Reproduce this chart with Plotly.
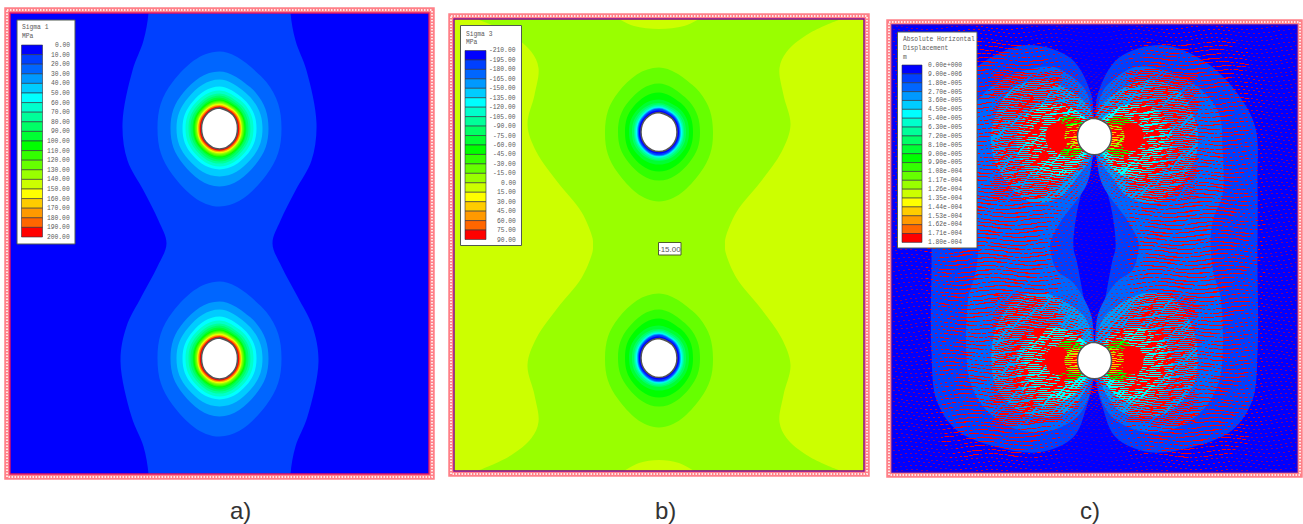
import numpy as np
import plotly.graph_objects as go

W, H = 1303, 524

# ---------- legend contents ----------
PALETTE = ["#0000ff", "#0040ff", "#0066ff", "#0099ff", "#00ccff", "#00ffff", "#00ffcc",
           "#00ff99", "#00ff66", "#00ff33", "#00ff00", "#33ff00", "#66ff00", "#99ff00",
           "#ccff00", "#ffff00", "#ffcc00", "#ff9900", "#ff6600", "#ff0000"]
LABELS_A = ["0.00", "10.00", "20.00", "30.00", "40.00", "50.00", "60.00", "70.00", "80.00", "90.00",
            "100.00", "110.00", "120.00", "130.00", "140.00", "150.00", "160.00", "170.00", "180.00",
            "190.00", "200.00"]
LABELS_B = ["-210.00", "-195.00", "-180.00", "-165.00", "-150.00", "-135.00", "-120.00", "-105.00",
            "-90.00", "-75.00", "-60.00", "-45.00", "-30.00", "-15.00", "0.00", "15.00", "30.00",
            "45.00", "60.00", "75.00", "90.00"]
LABELS_C = ["0.00e+000", "9.00e-006", "1.80e-005", "2.70e-005", "3.60e-005", "4.50e-005", "5.40e-005",
            "6.30e-005", "7.20e-005", "8.10e-005", "9.00e-005", "9.90e-005", "1.08e-004", "1.17e-004",
            "1.26e-004", "1.35e-004", "1.44e-004", "1.53e-004", "1.62e-004", "1.71e-004", "1.80e-004"]

# ---------- panel a: sigma 1 ----------
A_WAVE_Y = [262, 230.5, 203, 173, 120, 83, 53, 23, 0, -23, -53, -83, -118, -173, -203, -230.5, -262]
A_WAVE_HW = [71, 71, 76, 87, 97, 92, 76, 61, 53, 62, 78, 93, 99, 88, 76, 71, 71]
# radii around a hole: top, upper diagonal, side, lower diagonal, bottom
A_RINGS = [("#0066ff", 77, 66, 62, 66, 78), ("#0099ff", 57, 51, 49, 51, 58), ("#00ccff", 49, 44, 43, 44, 48),
           ("#00ffff", 42, 38, 37, 38, 41), ("#00ffcc", 38, 35, 34, 35, 38), ("#00ff99", 35, 32, 31, 32, 35),
           ("#00ff66", 33, 30, 29, 30, 33), ("#00ff33", 31, 28, 27, 28, 31), ("#00ff00", 29, 27, 26, 27, 29),
           ("#33ff00", 28, 26, 25, 26, 28), ("#66ff00", 27, 25, 24, 25, 27), ("#99ff00", 26, 24, 23, 24, 26),
           ("#ccff00", 25, 23.4, 22.3, 23.4, 25), ("#ffff00", 24.3, 22.9, 21.8, 22.9, 24.3),
           ("#ffcc00", 23.8, 22.4, 21.4, 22.4, 23.8), ("#ff9900", 23.3, 22, 21, 22, 23.3),
           ("#ff6600", 22.6, 21.3, 20.3, 21.3, 22.6), ("#ff0000", 22, 20.6, 19.6, 20.6, 22)]
A_HOLE = (20.5, 19.1, 18, 19.1, 20.5)

# ---------- panel b: sigma 3 ----------
B_SIDE_Y = [226, 225, 210, 193, 177, 150, 120, 93, 63, 33, 7, 0]
B_SIDE_HW = [183, 179.5, 147.5, 127.5, 120.5, 124.5, 131.5, 122.5, 101.5, 77.5, 66.5, 66]
B_TOP_X = [-40, -25, 0, 25, 40]
B_TOP_Y = [226, 219, 216, 219, 226]
B_BOTTOM_X = [-35, -20, 0, 20, 35]
B_BOTTOM_Y = [-226, -218, -215, -218, -226]
B_RINGS = [("#66ff00", 64.5, 57, 54, 58, 69.5), ("#33ff00", 48.5, 43, 41, 43, 48.5), ("#00ff00", 39.5, 36, 34, 36, 39.5),
           ("#00ff33", 32.5, 31, 30, 31, 32.5), ("#00ff66", 29, 28, 27, 28, 29), ("#00ff99", 27.5, 26, 25, 26, 27.5),
           ("#00ffcc", 26, 24.5, 24, 24.5, 26), ("#00ffff", 25, 23.5, 23, 23.5, 25), ("#00ccff", 24.5, 23, 22, 23, 24.5),
           ("#0099ff", 24, 22.5, 21.5, 22.5, 24), ("#0066ff", 23.5, 22, 21, 22, 23.5), ("#0040ff", 23, 21.5, 20.5, 21.5, 23),
           ("#0000ff", 21.5, 20.5, 20, 20.5, 21.5)]
B_HOLE = (19.5, 18.7, 18, 18.7, 19.5)

# ---------- panel c: horizontal displacement (right-hand outlines, mirrored to the left) ----------
C1_X = [1, 4, 24, 68, 111, 144, 161, 163, 163, 163, 158, 138, 98, 54, 21, 8, 1, 0, 1, 9, 18, 21, 18, 8, 2, 0, 1]
C1_Y = [136.5, 156.5, 190.5, 203.5, 186.5, 153.5, 120.5, 66.5, -11.5, -104.5, -151.5, -181.5, -198.5, -203.5,
        -188.5, -158.5, -131.5, -112, -91.5, -58.5, -11.5, 0.5, 33.5, 73.5, 90.5, 112, 136.5]
C2_X = [8, 21, 41, 68, 101, 124, 128, 128, 119, 116, 119, 126, 128, 124, 111, 84, 51, 21, 8, 2, 0, 1, 4, 21, 38,
        44, 44, 34, 8, 2, 0, 8]
C2_Y = [156.5, 170.5, 181.5, 178.5, 163.5, 136.5, 100.5, 53.5, 30.5, 8.5, -24.5, -48.5, -108.5, -134.5, -158.5,
        -178.5, -183.5, -171.5, -154.5, -131.5, -112, -84.5, -64.5, -34.5, -21.5, -1.5, 6.5, 26.5, 63.5, 90.5, 112, 156.5]
C3_UP_X = [4, 18, 51, 84, 101, 103, 91, 64, 34, 18, 4, 0, 4]
C3_UP_Y = [138.5, 153.5, 168.5, 158.5, 126.5, 100.5, 70.5, 46.5, 51.5, 70.5, 90.5, 112, 138.5]
C3_LOW_X = [8, 24, 51, 78, 98, 103, 98, 74, 46, 24, 8, 0, 8]
C3_LOW_Y = [-71.5, -56.5, -44.5, -49.5, -78.5, -108.5, -138.5, -163.5, -168.5, -161.5, -138.5, -112, -71.5]
# lobes beside a hole, offsets from the hole centre
C_LOBES = [("#00ccff", [6, 31, 56, 74, 78, 68, 46, 24, 6, 0, 6], [16, 31, 31, 14, -9, -34, -46, -36, -16, 0, 16]),
           ("#00ffff", [6, 26, 55, 70, 55, 26, 6, 0, 6], [14, 30, 30, 0, -32, -38, -14, 0, 14]),
           ("#00ff00", [14, 30, 38, 40, 38, 30, 14, 14], [16, 20, 12, 0, -12, -20, -16, 16]),
           ("#ff0000", [29, 38, 46, 49, 46, 38, 29, 26, 29], [11, 14, 10, 0, -10, -14, -11, 0, 11]),
           ("#99ff00", [15, 26, 30, 26, 15, 15], [12, 10, 0, -10, -12, 12]),
           ("#ffcc00", [16, 22, 24, 22, 16, 16], [8, 5, 0, -5, -8, 8])]
C_HOLE = (18.3, 17.7, 17, 17.7, 18.3)
# red vector length, by 17-unit columns from the centre line and 16-unit rows from the hole centre
VEC_OUTER = [[6, 8, 9, 9, 7, 5, 4, 5, 4, 1.5, 1, 1],
             [3, 7, 9, 9, 7, 5, 4, 5, 3, 1.5, 1, 1],
             [1, 3, 6, 7, 6, 5, 4, 5, 3, 1.5, 1, 1],
             [.5, 1.5, 5, 6, 5, 5, 5, 5, 3, 1.5, 1, 1],
             [.5, 1, 3, 5, 5, 5, 5, 5, 3, 1, 1, 1],
             [.5, .7, 1.5, 3, 4, 4, 4, 3, 2, 1, 1, 1],
             [.5, .7, 1, 1, 1.5, 1.5, 1.5, 1.5, 1, 1, 1, .7]]
VEC_INNER = [[6, 8, 9, 9, 7, 5, 4, 5, 4, 1.5, 1, 1],
             [3, 7, 9, 9, 7, 5, 4, 5, 3, 1.5, 1, 1],
             [1, 3, 6, 7, 6, 5, 5, 5, 3, 1.5, 1, 1],
             [.5, 1.5, 5, 6, 6, 5, 5, 5, 4, 1.5, 1, 1],
             [.5, 1, 3, 6, 6, 6, 6, 6, 4, 1.5, 1, 1],
             [.5, 1, 3, 6, 6, 6, 6, 6, 4, 2, 1, 1],
             [.5, 1, 3, 6, 6, 6, 6, 6, 4, 2, 1, 1]]
# repeating vector-length factors and row undulation along the mesh
VEC_VARIATION = [1, .4, 1.5, .6, 1.2, .3, 1.6, .8, .5, 1.3, .7, 1.1, .4, 1.4, .9, .6, 1.2]
VEC_WAVE = [0, 1, 1, 2, 2, 2, 1, 1, 0, -1, -1, -2, -2, -2, -1, -1]

# ---------- layout of the three panels (pixel box: left, top, right, bottom) ----------
BOX_A, BOX_B, BOX_C = (10, 13, 429, 474), (454, 19, 864, 471), (892, 25, 1297, 472)
HOLES_A, HOLES_B, HOLES_C = (115, -115), (113, -113), (112, -112)


def fx(x): return x / W
def fy(y): return 1 - y / H


fig = go.Figure()
SQRT = np.sqrt(0.5)


def ring_path(r, cy):
    top, du, side, dd, bot = r
    xs = [0, du * SQRT, side, dd * SQRT, 0, -dd * SQRT, -side, -du * SQRT]
    ys = [top, du * SQRT, 0, -dd * SQRT, -bot, -dd * SQRT, 0, du * SQRT]
    ys = [y + cy for y in ys]
    return xs + xs[:2], ys + ys[:2]


def add_fill(ax, x, y, color, spline=True, line=None, smoothing=1.0):
    fig.add_trace(go.Scatter(
        x=x, y=y, mode="lines", fill="toself", fillcolor=color, xaxis="x" + ax, yaxis="y" + ax,
        line=dict(color=line or color, width=1.5 if line else 0, shape="spline" if spline else "linear",
                  smoothing=smoothing),
        hoverinfo="skip", showlegend=False))


def add_rings(ax, rings, holes):
    for color, *r in rings:
        xs, ys = [], []
        for cy in holes:
            a, b = ring_path(r, cy)
            xs += a + [None]
            ys += b + [None]
        add_fill(ax, xs, ys, color, smoothing=1.2)


def add_holes(ax, hole, holes):
    xs, ys = [], []
    for cy in holes:
        a, b = ring_path(hole, cy)
        xs += a + [None]
        ys += b + [None]
    add_fill(ax, xs, ys, "#ffffff", line="#555555", smoothing=1.2)


def add_background(ax, box, color):
    hw, hh = (box[2] - box[0]) / 2, (box[3] - box[1]) / 2
    add_fill(ax, [-hw, hw, hw, -hw, -hw], [hh, hh, -hh, -hh, hh], color, spline=False)


# panel a
add_background("", BOX_A, PALETTE[0])
add_fill("", A_WAVE_HW + [-v for v in A_WAVE_HW[::-1]] + A_WAVE_HW[:1], A_WAVE_Y + A_WAVE_Y[::-1] + A_WAVE_Y[:1], PALETTE[1])
add_rings("", A_RINGS, HOLES_A)
add_holes("", A_HOLE, HOLES_A)

# panel b
add_background("2", BOX_B, PALETTE[13])
hh_b = (BOX_B[3] - BOX_B[1]) / 2
hw_b = (BOX_B[2] - BOX_B[0]) / 2
for sgn in (-1, 1):
    xs = [sgn * hw_b] + [sgn * v for v in B_SIDE_HW] + [sgn * v for v in B_SIDE_HW[-2::-1]] + [sgn * hw_b, sgn * hw_b]
    ys = [hh_b] + B_SIDE_Y + [-v for v in B_SIDE_Y[-2::-1]] + [-hh_b, hh_b]
    add_fill("2", xs, ys, PALETTE[14])
add_fill("2", B_TOP_X, B_TOP_Y, PALETTE[14])
add_fill("2", B_BOTTOM_X, B_BOTTOM_Y, PALETTE[14])
add_rings("2", B_RINGS, HOLES_B)
add_holes("2", B_HOLE, HOLES_B)

# panel c
add_background("3", BOX_C, PALETTE[0])
for sgn in (1, -1):
    add_fill("3", [sgn * v for v in C1_X], C1_Y, PALETTE[1])
for sgn in (1, -1):
    add_fill("3", [sgn * v for v in C2_X], C2_Y, PALETTE[2])
for sgn in (1, -1):
    add_fill("3", [sgn * v for v in C3_UP_X], C3_UP_Y, PALETTE[3])
    add_fill("3", [sgn * v for v in C3_LOW_X], C3_LOW_Y, PALETTE[3])
for color, lx, ly in C_LOBES:
    for cy in HOLES_C:
        for sgn in (1, -1):
            add_fill("3", [sgn * v for v in lx], [v + cy for v in ly], color)

vec_x, vec_y = [], []
hw_c, hh_c = (BOX_C[2] - BOX_C[0]) / 2, (BOX_C[3] - BOX_C[1]) / 2
for i, y in enumerate(np.arange(-hh_c + 0.5, hh_c, 2.0)):
    for j, x in enumerate(np.arange(-hw_c, hw_c, 5.0) + (i % 3) * 2):
        cy = HOLES_C[0] if y > 0 else HOLES_C[1]
        d = y - cy
        if i % 2 and not (abs(d) < 64 and abs(x) < 102):
            continue
        outward = (d > 0) == (cy > 0)
        table = VEC_OUTER if outward else VEC_INNER
        L = table[min(int(abs(d) / 16), 6)][min(int(abs(x) / 17), 11)]
        if L > 1.5:
            L = L * VEC_VARIATION[(i * 7 + j * 3) % len(VEC_VARIATION)]
        yy = y + VEC_WAVE[(j + i // 6) % len(VEC_WAVE)]
        vec_x += [x - L / 2, x + L / 2, None]
        vec_y += [yy, yy, None]
fig.add_trace(go.Scatter(x=vec_x, y=vec_y, mode="lines", line=dict(color="#ff0000", width=1),
                         xaxis="x3", yaxis="y3", hoverinfo="skip", showlegend=False))
add_holes("3", C_HOLE, HOLES_C)

# ---------- frames ----------
shapes, notes = [], []


def rect(x0, y0, x1, y1, fill=None, line=None, width=1, dash=None):
    shapes.append(dict(type="rect", xref="paper", yref="paper", x0=fx(x0), x1=fx(x1), y0=fy(y0), y1=fy(y1),
                       layer="above", fillcolor=fill or "rgba(0,0,0,0)",
                       line=dict(color=line or "rgba(0,0,0,0)", width=width if line else 0, dash=dash)))


def text(x, y, s, size=6.3, color="#5a5a5a", anchor="left", family="Liberation Mono"):
    notes.append(dict(xref="paper", yref="paper", x=fx(x), y=fy(y), text=s, showarrow=False, xanchor=anchor,
                      yanchor="middle", font=dict(family=family, size=size, color=color), borderpad=0))


for box, inner in ((BOX_A, "#e01060"), (BOX_B, "#800090"), (BOX_C, "#3000c0")):
    l, t, r, b = box
    rect(l - 3, t - 3, r + 3, b + 3, line="#ff8088", width=5.5)
    rect(l - 3, t - 3, r + 3, b + 3, line="#ffe6e6", width=2, dash="1.5px,1.5px")
    rect(l, t, r, b, line=inner, width=1.4)


def legend(box, title, title_y, sw, labels, lab_x, lab_anchor, lab_top, lab_step):
    rect(*box, fill="#ffffff", line="#505a50", width=1)
    for s, ty in zip(title, title_y):
        text(box[0] + 4, ty, s)
    x0, x1, top, step = sw
    for i, c in enumerate(PALETTE):
        rect(x0, top + i * step, x1, top + (i + 1) * step, fill=c, line="#303040", width=0.6)
    for i, s in enumerate(labels):
        text(lab_x, lab_top + i * lab_step, s, anchor=lab_anchor)


legend((17, 20, 75, 244), ["Sigma 1", "MPa"], [28, 37], (21.5, 42.5, 45, 9.6), LABELS_A, 70.5, "right", 45.5, 9.6)
legend((460.5, 25.5, 521.5, 245.5), ["Sigma 3", "MPa"], [34, 43], (465, 486, 50.5, 9.45), LABELS_B, 517, "right", 51, 9.45)
legend((897.5, 32, 977, 248), ["Absolute Horizontal", "Displacement", "m"], [39.5, 48.5, 57.5], (902, 922, 65, 8.87),
       LABELS_C, 927, "left", 65.5, 8.86)

rect(658.5, 242.5, 681, 255, fill="#ffffff", line="#505a30", width=1)
text(669.8, 249, "-15.00", size=8, anchor="center", family="Liberation Sans")

for x, s in ((240, "a)"), (665, "b)"), (1090, "c)")):
    text(x, 510, s, size=24, color="#333333", anchor="center", family="Liberation Sans")


def axis(lo, hi, x0, x1):
    return dict(range=[lo, hi], domain=[x0, x1], visible=False, fixedrange=True)


layout = dict(width=W, height=H, margin=dict(l=0, r=0, t=0, b=0), paper_bgcolor="#ffffff", plot_bgcolor="#ffffff",
              shapes=shapes, annotations=notes)
for suffix, box in (("", BOX_A), ("2", BOX_B), ("3", BOX_C)):
    l, t, r, b = box
    layout["xaxis" + suffix] = axis(-(r - l) / 2, (r - l) / 2, fx(l), fx(r))
    layout["yaxis" + suffix] = axis(-(b - t) / 2, (b - t) / 2, fy(b), fy(t))
fig.update_layout(**layout)
fig.write_html("out.html", config=dict(displayModeBar=False), post_script="document.body.style.margin='0';")
